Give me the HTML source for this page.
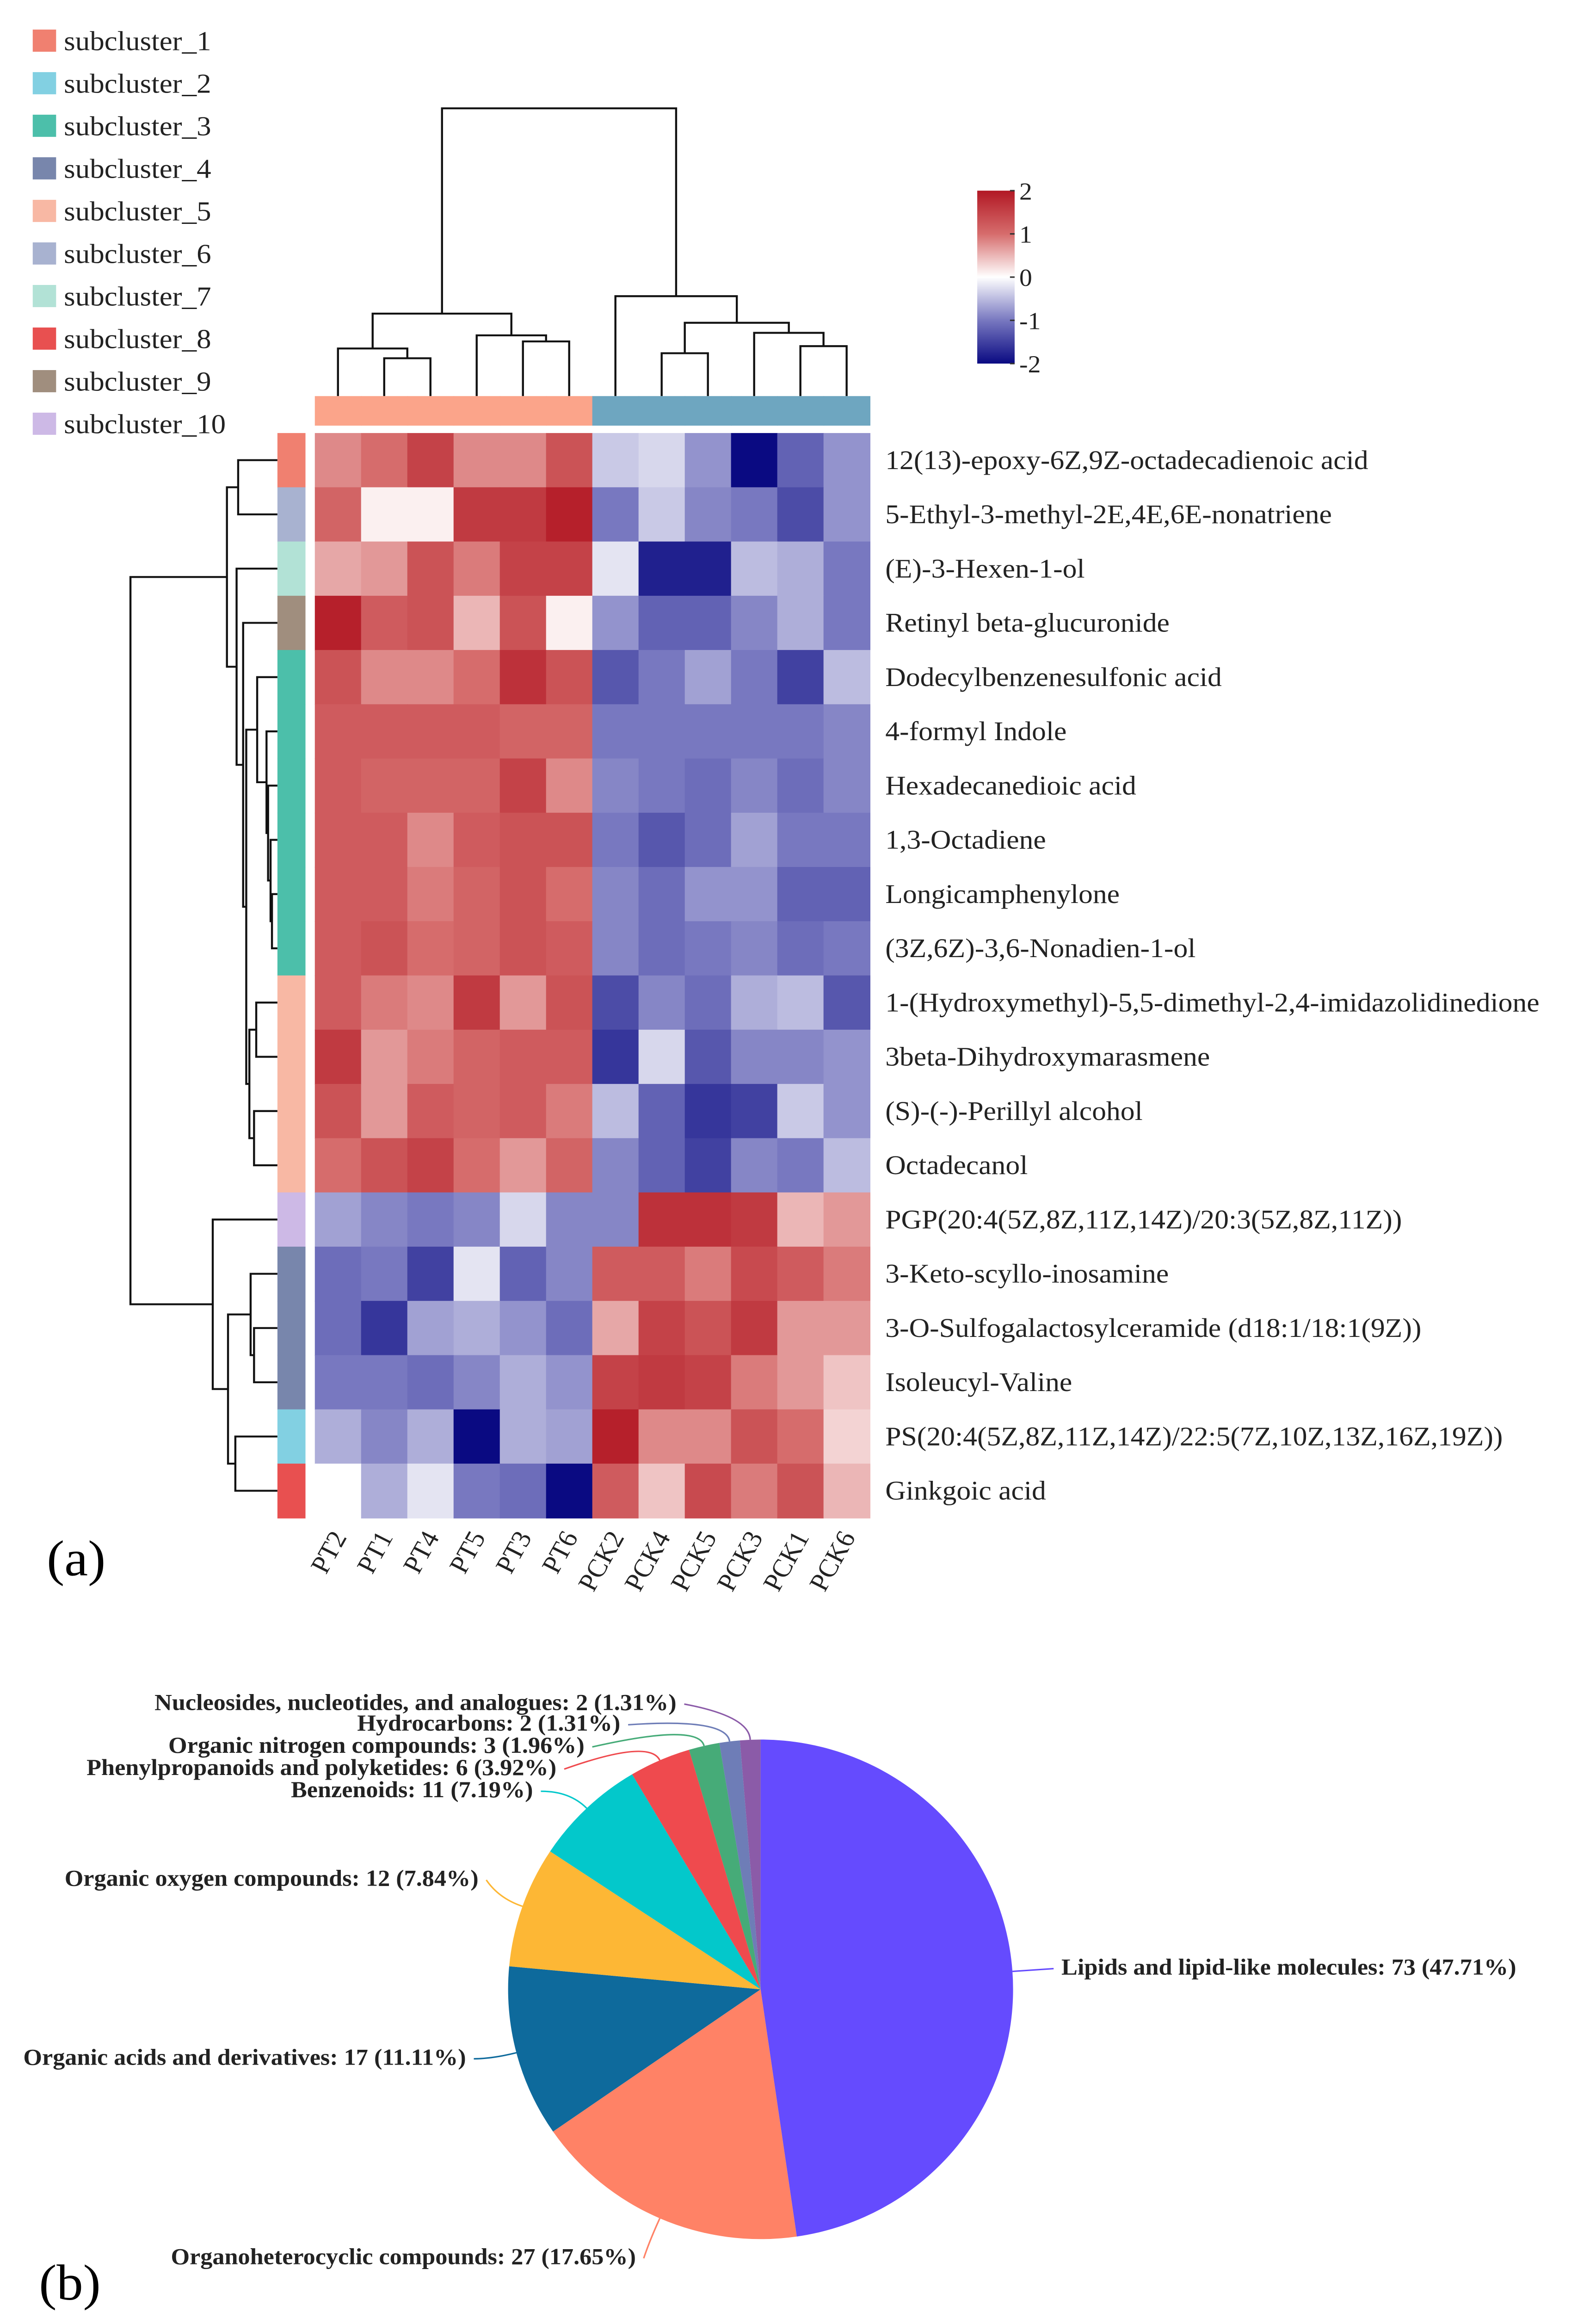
<!DOCTYPE html>
<html><head><meta charset="utf-8"><style>
html,body{margin:0;padding:0;background:#fff;overflow:hidden;width:100vw;height:100vh;}
svg{display:block;width:100vw;height:100vh;}
text{font-family:"Liberation Serif",serif;}
</style></head><body>
<svg id="fig" xmlns="http://www.w3.org/2000/svg" viewBox="0 0 1024 1565" preserveAspectRatio="none">
<g id="legend"></g>
<g id="coldend"></g>
<g id="rowdend"></g>
<g id="annot"></g>
<g id="heat"></g>
<g id="rowlabels"></g>
<g id="collabels"></g>
<g id="cbar"></g>
<text x="30" y="1066" font-size="34">(a)</text>
<g id="pie"></g>
<text x="25" y="1556" font-size="34">(b)</text>
</svg>
<script>
const NS="http://www.w3.org/2000/svg";
const cols=["PT2","PT1","PT4","PT5","PT3","PT6","PCK2","PCK4","PCK5","PCK3","PCK1","PCK6"];
const rows=["12(13)-epoxy-6Z,9Z-octadecadienoic acid","5-Ethyl-3-methyl-2E,4E,6E-nonatriene","(E)-3-Hexen-1-ol","Retinyl beta-glucuronide","Dodecylbenzenesulfonic acid","4-formyl Indole","Hexadecanedioic acid","1,3-Octadiene","Longicamphenylone","(3Z,6Z)-3,6-Nonadien-1-ol","1-(Hydroxymethyl)-5,5-dimethyl-2,4-imidazolidinedione","3beta-Dihydroxymarasmene","(S)-(-)-Perillyl alcohol","Octadecanol","PGP(20:4(5Z,8Z,11Z,14Z)/20:3(5Z,8Z,11Z))","3-Keto-scyllo-inosamine","3-O-Sulfogalactosylceramide (d18:1/18:1(9Z))","Isoleucyl-Valine","PS(20:4(5Z,8Z,11Z,14Z)/22:5(7Z,10Z,13Z,16Z,19Z))","Ginkgoic acid"];
const values=[
[0.8,1.0,1.5,0.8,0.8,1.3,-0.4,-0.3,-0.8,-2,-1.2,-0.8],
[1.1,0.1,0.1,1.6,1.6,1.9,-1.0,-0.4,-0.9,-1.0,-1.4,-0.8],
[0.6,0.7,1.3,0.9,1.5,1.5,-0.2,-1.8,-1.8,-0.5,-0.6,-1.0],
[1.9,1.2,1.3,0.5,1.3,0.1,-0.8,-1.2,-1.2,-0.9,-0.6,-1.0],
[1.3,0.8,0.8,1.0,1.7,1.3,-1.3,-1.0,-0.7,-1.0,-1.5,-0.5],
[1.2,1.2,1.2,1.2,1.1,1.1,-1.0,-1.0,-1.0,-1.0,-1.0,-0.9],
[1.2,1.1,1.1,1.1,1.5,0.8,-0.9,-1.0,-1.1,-0.9,-1.1,-0.9],
[1.2,1.2,0.8,1.2,1.3,1.3,-1.0,-1.3,-1.1,-0.7,-1.0,-1.0],
[1.2,1.2,0.9,1.1,1.3,1.0,-0.9,-1.1,-0.8,-0.8,-1.2,-1.2],
[1.2,1.3,1.0,1.1,1.3,1.2,-0.9,-1.1,-1.0,-0.9,-1.1,-1.0],
[1.2,0.9,0.8,1.6,0.7,1.3,-1.4,-0.9,-1.1,-0.6,-0.5,-1.3],
[1.6,0.7,0.9,1.1,1.2,1.2,-1.6,-0.3,-1.3,-0.9,-0.9,-0.8],
[1.3,0.7,1.2,1.1,1.2,0.9,-0.5,-1.2,-1.6,-1.5,-0.4,-0.8],
[1.0,1.3,1.5,1.0,0.7,1.1,-0.9,-1.2,-1.5,-0.9,-1.0,-0.5],
[-0.7,-0.9,-1.0,-0.9,-0.3,-0.9,-0.9,1.7,1.7,1.6,0.5,0.7],
[-1.1,-1.0,-1.5,-0.2,-1.2,-0.9,1.2,1.2,0.9,1.4,1.2,0.9],
[-1.1,-1.6,-0.7,-0.6,-0.8,-1.1,0.6,1.5,1.3,1.6,0.7,0.7],
[-1.0,-1.0,-1.1,-0.9,-0.6,-0.8,1.5,1.6,1.5,0.9,0.7,0.4],
[-0.6,-0.9,-0.6,-2,-0.6,-0.7,1.9,0.8,0.8,1.3,1.0,0.3],
[0.0,-0.6,-0.2,-1.0,-1.1,-2,1.2,0.4,1.4,0.9,1.3,0.5]];
const rowCluster=[1,6,7,9,3,3,3,3,3,3,5,5,5,5,10,4,4,4,2,8];
const clusterNames=["subcluster_1","subcluster_2","subcluster_3","subcluster_4","subcluster_5","subcluster_6","subcluster_7","subcluster_8","subcluster_9","subcluster_10"];
const clusterColors=["#F08070","#82D0E2","#4CBFAA","#7886AC","#F8B8A4","#A8B2D0","#B2E2D6","#E85050","#A08E7E","#CDB9E6"];
const groupColors=["#FBA48A","#6EA6C0"];
const colGroup=[0,0,0,0,0,0,1,1,1,1,1,1];
const scaleTicks=[2,1,0,-1,-2];
const pieCats=["Lipids and lipid-like molecules","Organoheterocyclic compounds","Organic acids and derivatives","Organic oxygen compounds","Benzenoids","Phenylpropanoids and polyketides","Organic nitrogen compounds","Hydrocarbons","Nucleosides, nucleotides, and analogues"];
const pieCounts=[73,27,17,12,11,6,3,2,2];
const piePct=["47.71%","17.65%","11.11%","7.84%","7.19%","3.92%","1.96%","1.31%","1.31%"];
const pieColors=["#654BFE","#FF8266","#0E6A9C","#FDB735","#03C8CB","#EF4A4E","#46AB78","#6E7DB7","#8B5BA8"];

function el(tag,attrs,parent){const e=document.createElementNS(NS,tag);for(const k in attrs)e.setAttribute(k,attrs[k]);parent.appendChild(e);return e;}
const stops=[[-2,[10,10,130]],[-1,[120,120,192]],[0,[255,255,255]],[1,[214,108,108]],[2,[178,24,36]]];
function color(v){v=Math.max(-2,Math.min(2,v));for(let i=0;i<4;i++){const a=stops[i],b=stops[i+1];if(v<=b[0]){const t=(v-a[0])/(b[0]-a[0]);return "rgb("+a[1].map((c,j)=>Math.round(c+(b[1][j]-c)*t)).join(",")+")";}}}
const X0=202,CW=29.67,Y0=293,RH=36.7;
const xCol=i=>X0+i*CW, yRow=i=>Y0+i*RH;

const lg=document.getElementById('legend');
clusterNames.forEach((n,i)=>{
 const r=el('rect',{x:21,y:20+i*28.8,width:15,height:15,fill:clusterColors[i]},lg);
 
 
 const t=el('text',{x:41,y:34+i*28.8,'font-size':18.7,fill:'#222'},lg);t.textContent=n;
 
 
});
const hm=document.getElementById('heat');
values.forEach((row,r)=>row.forEach((v,c)=>{
 const e=el('rect',{x:xCol(c),y:yRow(r),width:CW+0.4,height:RH+0.4,fill:color(v)},hm);
 
 
}));
const an=document.getElementById('annot');
rowCluster.forEach((k,r)=>{const e=el('rect',{x:178,y:yRow(r),width:18,height:RH+0.4,fill:clusterColors[k-1]},an);
 
 });
colGroup.forEach((g,c)=>{const e=el('rect',{x:xCol(c),y:268,width:CW+0.4,height:20,fill:groupColors[g]},an);
 
 });
const rl=document.getElementById('rowlabels');
rows.forEach((n,r)=>{const t=el('text',{x:568,y:yRow(r)+RH/2+6,'font-size':18.3,fill:'#222'},rl);t.textContent=n;
 
 });
const cl=document.getElementById('collabels');
cols.forEach((n,c)=>{const x=xCol(c)+CW/2+6,y=1040;const t=el('text',{x:x,y:y,'font-size':17.5,fill:'#222','text-anchor':'end',transform:`rotate(-62 ${x} ${y})`},cl);t.textContent=n;
 
 });
const colTree=[[0,[1,2,242.4],235.8],[3,[4,5,231],226.9],212.2];
const colTreeFull=[colTree,[6,[[7,8,239],[9,[10,11,234.2],225.2],218.4],200.4],73.3];
const rowTree=[[[0,1,152.8],[2,[3,[[4,[5,[6,[7,[8,9,174.5],173.6],172],171],165],[[10,11,164.4],[12,13,163],160],158],156],151.8],145.6],[14,[[15,[16,17,163],160.8],[18,19,151],146.3],136.5],83.7];
function drawTree(node,g,isCol){
 if(typeof node==='number'){return isCol?{p:xCol(node)+CW/2,h:268}:{p:yRow(node)+RH/2,h:178};}
 const a=drawTree(node[0],g,isCol),b=drawTree(node[1],g,isCol),h=node[2];
 const d=isCol?`M${a.p},${a.h}V${h}H${b.p}V${b.h}`:`M${a.h},${a.p}H${h}V${b.p}H${b.h}`;
 const p=el('path',{d:d,fill:'none',stroke:'#111','stroke-width':1.3},g);
 
 
 return {p:(a.p+b.p)/2,h:h};
}
drawTree(colTreeFull,document.getElementById('coldend'),true);
drawTree(rowTree,document.getElementById('rowdend'),false);
const cb=document.getElementById('cbar');
const defs=el('defs',{},cb);const gr=el('linearGradient',{id:'cg',x1:0,y1:0,x2:0,y2:1},defs);
[2,1,0,-1,-2].forEach((v,i)=>el('stop',{offset:(i/4),'stop-color':color(v)},gr));
const cr=el('rect',{x:627,y:129,width:24,height:117,fill:'url(#cg)'},cb);


scaleTicks.forEach(v=>{const y=129+(2-v)/4*117;el('line',{x1:648,x2:651,y1:y,y2:y,stroke:'#333'},cb);
 const t=el('text',{x:654,y:y+6,'font-size':16.5,fill:'#222'},cb);t.textContent=(v<0?'-':'')+Math.abs(v);
 
 });
const pg=document.getElementById('pie');
const CX=488,CY=1346,RX=162,RY=169;
const total=pieCounts.reduce((a,b)=>a+b,0);
const labelPos=[[681,1336,'start'],[408,1532,'end'],[299,1397,'end'],[307,1276,'end'],[342,1216,'end'],[357,1201,'end'],[375,1186,'end'],[398,1171,'end'],[434,1157,'end']];
let ang=0;
pieCounts.forEach((v,i)=>{
 const a0=ang,a1=ang+v/total*2*Math.PI;ang=a1;
 const pt=a=>[CX+RX*Math.sin(a),CY-RY*Math.cos(a)];
 const p0=pt(a0),p1=pt(a1);const large=(a1-a0)>Math.PI?1:0;
 const s=el('path',{d:`M${CX},${CY}L${p0[0]},${p0[1]}A${RX},${RY} 0 ${large} 1 ${p1[0]},${p1[1]}Z`,fill:pieColors[i]},pg);
 
 
 const am=(a0+a1)/2,pm=pt(am);
 const lp=labelPos[i];const ex=lp[2]==='start'?lp[0]-5:lp[0]+5;const ey=lp[1]-4;
 const mx=CX+(RX+16)*Math.sin(am),my=CY-(RY+16)*Math.cos(am);
 const l=el('path',{d:`M${pm[0]},${pm[1]}Q${mx},${my} ${ex},${ey}`,fill:'none',stroke:pieColors[i],'stroke-width':1},pg);
 
 
 const t=el('text',{x:lp[0],y:lp[1],'font-size':15.5,'font-weight':'bold',fill:'#222','text-anchor':lp[2]},pg);
 t.textContent=`${pieCats[i]}: ${v} (${piePct[i]})`;
 
 
});
</script>
</body></html>
